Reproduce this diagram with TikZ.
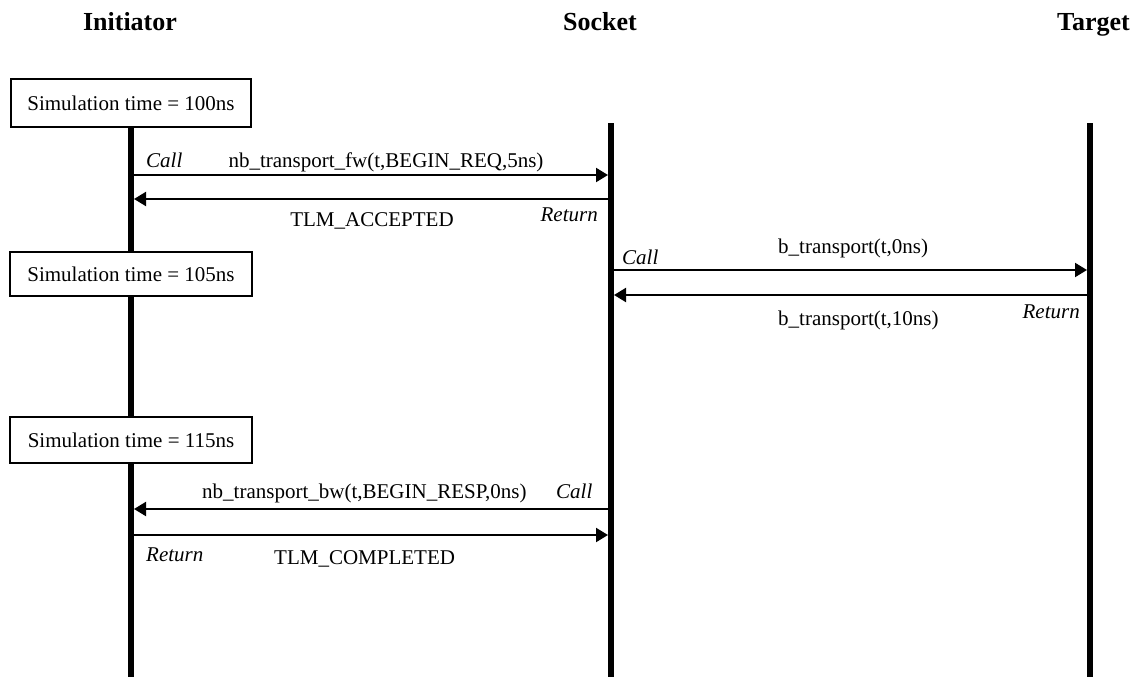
\documentclass[tikz,border=0pt]{standalone}
\usepackage{fontspec}
\setmainfont{Liberation Serif}
\usetikzlibrary{arrows.meta}
\begin{document}
\begin{tikzpicture}[x=1pt,y=-1pt,
 lifeline/.style={line width=6pt},
 msg/.style={line width=2pt,-{Triangle[length=12pt,width=14pt]},shorten >=3pt},
 simbox/.style={draw,line width=2pt,fill=white,minimum width=240pt,minimum height=46pt,inner sep=0pt,font=\fontsize{21}{25}\selectfont},
 lbl/.style={inner sep=0pt,font=\fontsize{21}{25}\selectfont},
 ital/.style={inner sep=0pt,font=\fontsize{21}{25}\selectfont\itshape},
 head/.style={inner sep=0pt,font=\fontsize{26}{30}\selectfont\bfseries}]
\useasboundingbox (0,0) rectangle (1135,677);

% headers
\node[head,anchor=base] (hI) at (130,31) {Initiator};
\node[head,anchor=base] (hS) at (600,31) {Socket};
\node[head,anchor=base east] (hT) at (1130,31) {Target};

% lifelines
\coordinate (Itop) at (131,123); \coordinate (Ibot) at (131,677);
\coordinate (Stop) at (611,123); \coordinate (Sbot) at (611,677);
\coordinate (Ttop) at (1090,123); \coordinate (Tbot) at (1090,677);
\draw[lifeline] (Itop) -- (Ibot);
\draw[lifeline] (Stop) -- (Sbot);
\draw[lifeline] (Ttop) -- (Tbot);

% time boxes
\node[simbox,minimum height=48pt] (t100) at (131,103) {Simulation time = 100ns};
\node[simbox,minimum width=242pt,minimum height=44pt] (t105) at (131,274) {Simulation time = 105ns};
\node[simbox,minimum width=242pt,minimum height=46pt] (t115) at (131,440) {Simulation time = 115ns};

% message anchor points
\coordinate (I1) at (131,175); \coordinate (S1) at (611,175);
\coordinate (I2) at (131,199); \coordinate (S2) at (611,199);
\coordinate (S3) at (611,270); \coordinate (T3) at (1090,270);
\coordinate (S4) at (611,295); \coordinate (T4) at (1090,295);
\coordinate (I5) at (131,509); \coordinate (S5) at (611,509);
\coordinate (I6) at (131,535); \coordinate (S6) at (611,535);

\draw[msg] (I1) -- (S1);
\draw[msg] (S2) -- (I2);
\draw[msg] (S3) -- (T3);
\draw[msg] (T4) -- (S4);
\draw[msg] (S5) -- (I5);
\draw[msg] (I6) -- (S6);

% labels
\node[ital,anchor=base west] (c1) at (146,167) {Call};
\node[lbl,anchor=base] (m1) at (386,167) {nb\_transport\_fw(t,BEGIN\_REQ,5ns)};
\node[lbl,anchor=base] (m2) at (372,226) {TLM\_ACCEPTED};
\node[ital,anchor=base east] (r2) at (598,221) {Return};

\node[ital,anchor=base west] (c3) at (622,264) {Call};
\node[lbl,anchor=base west] (m3) at (778,253) {b\_transport(t,0ns)};
\node[lbl,anchor=base west] (m4) at (778,325) {b\_transport(t,10ns)};
\node[ital,anchor=base east] (r4) at (1080,318) {Return};

\node[lbl,anchor=base west] (m5) at (202,498) {nb\_transport\_bw(t,BEGIN\_RESP,0ns)};
\node[ital,anchor=base west] (c5) at (556,498) {Call};
\node[ital,anchor=base west] (r6) at (146,561) {Return};
\node[lbl,anchor=base west] (m6) at (274,564) {TLM\_COMPLETED};
\end{tikzpicture}
\end{document}
